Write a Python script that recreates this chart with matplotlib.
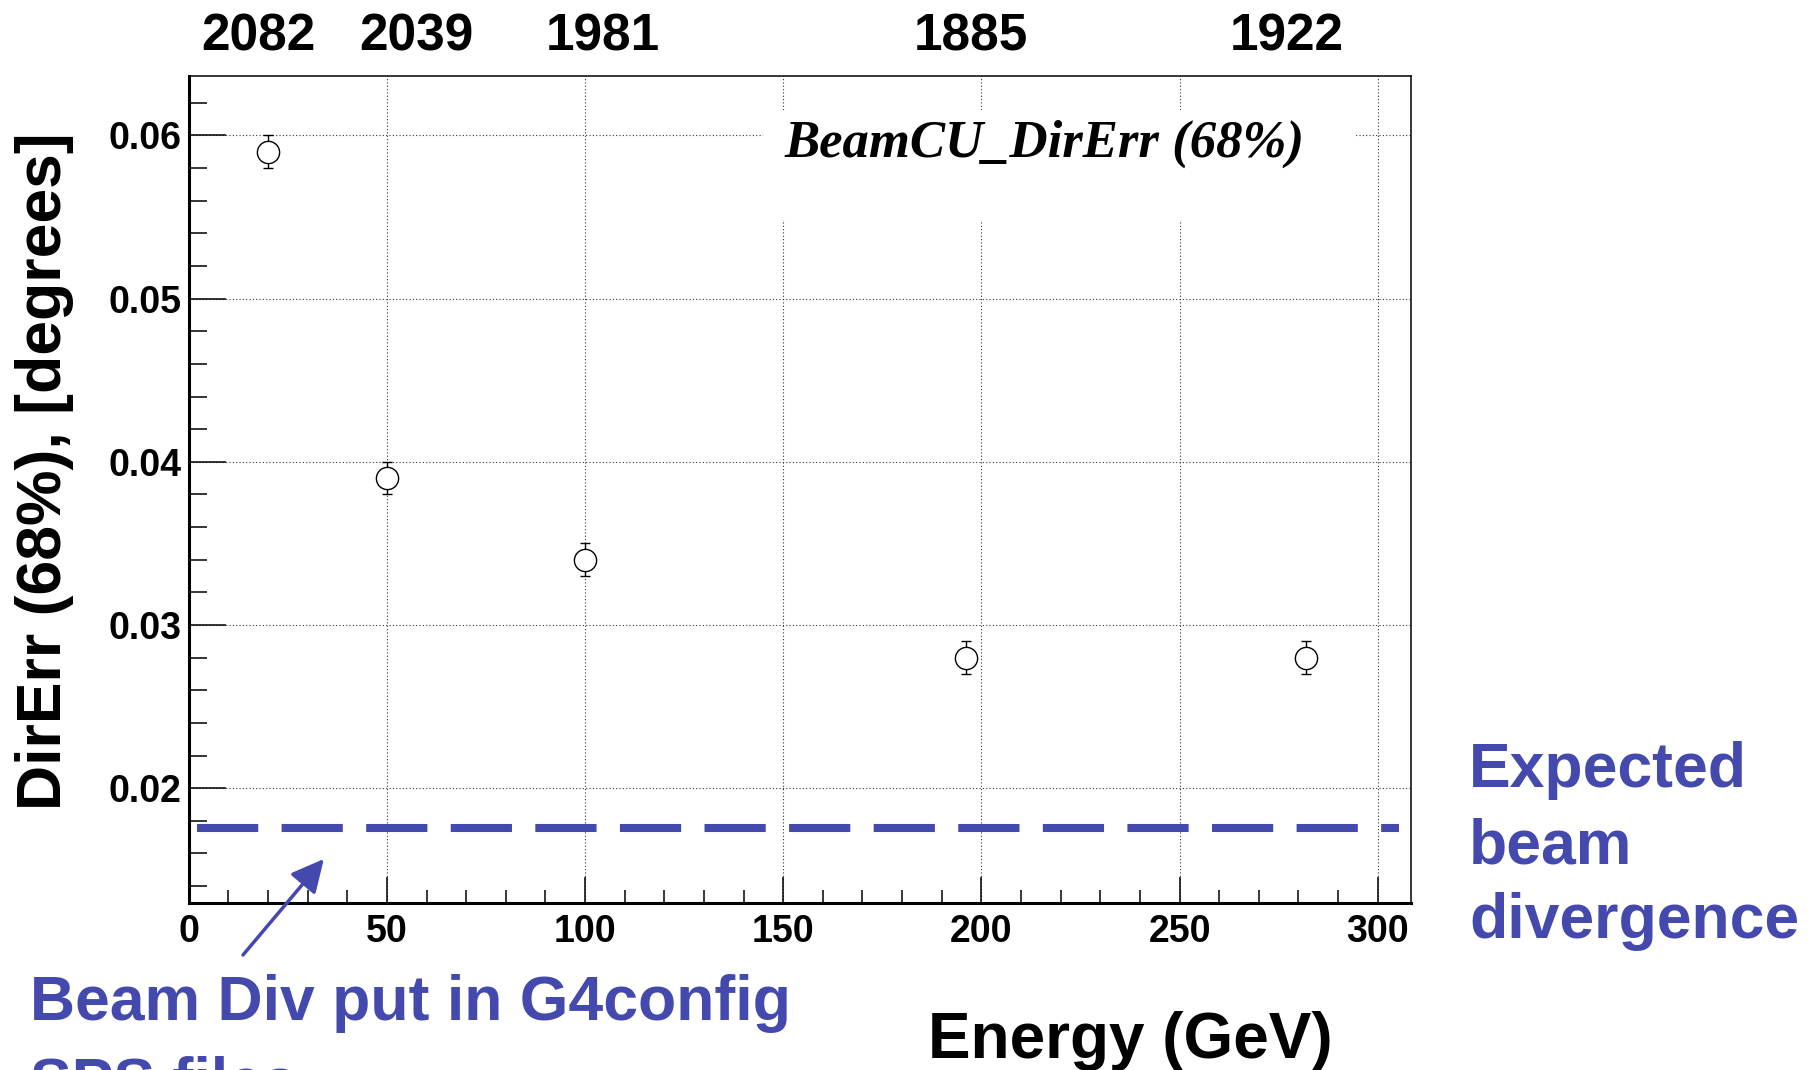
import numpy as np
import matplotlib.pyplot as plt
from matplotlib.patches import Rectangle
from matplotlib.transforms import blended_transform_factory

# beam energies and the 68% direction error
energy = [20, 50, 100, 196, 282]
dir_err = [0.059, 0.039, 0.034, 0.028, 0.028]
dir_err_unc = [0.001, 0.001, 0.001, 0.001, 0.001]

# event counts written above the plot
counts = ["2082", "2039", "1981", "1885", "1922"]
count_x = [17.6, 57.5, 104.5, 197.4, 277.1]

# expected beam divergence
expected_div = 0.01756

blue = "#4449AD"
sans = "Liberation Sans"

fig = plt.figure(figsize=(18.15, 10.70), dpi=100)
ax = fig.add_axes([0.10397, 0.15617, 0.67344, 0.77243])

ax.errorbar(energy, dir_err, yerr=dir_err_unc, fmt="o", ms=16, mfc="white",
            mec="black", mew=1.0, ecolor="black", elinewidth=1.0,
            capsize=3.5, capthick=1.0, zorder=4)

ax.axhline(expected_div, xmin=0.0068, xmax=0.9905, color=blue, lw=5.8,
           linestyle=(0, (7.6, 2.9)), zorder=3)

ax.set_xlim(0, 308.4)
ax.set_ylim(0.01297, 0.06362)
ax.set_xticks(np.arange(0, 301, 50))
ax.set_xticks(np.arange(0, 309, 10), minor=True)
ax.set_yticks([0.02, 0.03, 0.04, 0.05, 0.06])
ax.set_yticks(np.arange(0.014, 0.0636, 0.002), minor=True)
ax.set_yticklabels(["0.02", "0.03", "0.04", "0.05", "0.06"])

ax.grid(True, which="major", color="#333333", lw=0.8, linestyle=(0, (1, 2)))

ax.tick_params(axis="x", which="major", direction="in", length=19, width=1.1,
               pad=8, labelsize=27)
ax.tick_params(axis="x", which="minor", direction="in", length=9.6, width=1.1)
ax.tick_params(axis="y", which="major", direction="in", length=26.5, width=1.1,
               pad=5, labelsize=27)
ax.tick_params(axis="y", which="minor", direction="in", length=13, width=1.1)
for lab in ax.get_xticklabels() + ax.get_yticklabels():
    lab.set_fontfamily(sans)
    lab.set_fontweight("bold")

ax.spines["left"].set_linewidth(2.2)
ax.spines["bottom"].set_linewidth(2.2)
ax.spines["top"].set_linewidth(1.1)
ax.spines["right"].set_linewidth(1.1)

# white title box inside the frame
ax.add_patch(Rectangle((0.47, 0.826), 0.483, 0.133, transform=ax.transAxes,
                       facecolor="white", edgecolor="none", zorder=2))
ax.text(0.7006, 0.9025, "BeamCU_DirErr (68%)", transform=ax.transAxes,
        ha="center", va="baseline", fontsize=38, family="Liberation Serif",
        style="italic", weight="bold", zorder=3)

# counts on top
top_tr = blended_transform_factory(ax.transData, fig.transFigure)
for x, c in zip(count_x, counts):
    ax.text(x, 0.9526, c, transform=top_tr, ha="center", va="baseline",
            fontsize=37, family=sans, weight="bold", clip_on=False)

# axis titles
fig.text(45 / 1815, 1 - 471.6 / 1070, "DirErr (68%), [degrees]", rotation=90,
         ha="center", va="center", fontsize=45, family=sans, weight="bold")
fig.text(1130 / 1815, 1 - 1058 / 1070, "Energy (GeV)", ha="center",
         va="baseline", fontsize=46, family=sans, weight="bold")

# annotations
fig.text(30 / 1815, 1 - 1020 / 1070, "Beam Div put in G4config", ha="left",
         va="baseline", fontsize=45, family=sans, weight="bold", color=blue)
fig.text(30 / 1815, 1 - 1101 / 1070, "SPS files:", ha="left",
         va="baseline", fontsize=45, family=sans, weight="bold", color=blue)
for line, base in zip(["Expected", "beam", "divergence"], [787, 863, 938]):
    fig.text(1469 / 1815, 1 - base / 1070, line, ha="left", va="baseline",
             fontsize=45, family=sans, weight="bold", color=blue)

ax.annotate("", xy=(34.1, 0.01566), xycoords="data",
            xytext=(243 / 1815, 1 - 955 / 1070), textcoords="figure fraction",
            arrowprops=dict(arrowstyle="-|>,head_length=0.4,head_width=0.2",
                            mutation_scale=50, lw=2.5, color=blue,
                            shrinkA=0, shrinkB=0),
            annotation_clip=False)

fig.savefig("out.png", dpi=100)
